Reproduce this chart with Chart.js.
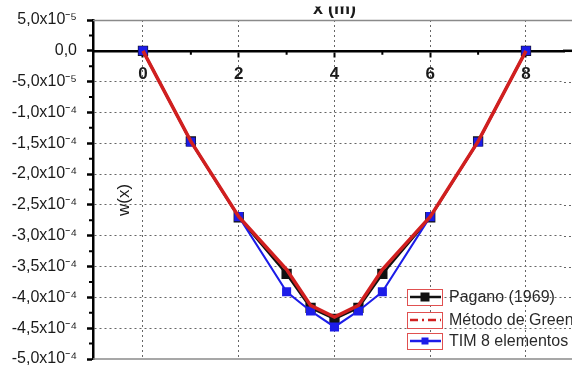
<!DOCTYPE html>
<html><head><meta charset="utf-8">
<script src="https://cdn.jsdelivr.net/npm/chart.js@4/dist/chart.umd.min.js"></script>
<style>html,body{margin:0;padding:0;background:#fff;}canvas{display:block;}</style>
</head><body>
<canvas id="c" width="572" height="372"></canvas>
<script>
const xValues = [0, 1, 2, 3, 3.5, 4, 4.5, 5, 6, 7, 8];
const pagano = [0, -1.47e-4, -2.70e-4, -3.62e-4, -4.17e-4, -4.35e-4, -4.17e-4, -3.62e-4, -2.70e-4, -1.47e-4, 0];
const green  = [0, -1.47e-4, -2.69e-4, -3.55e-4, -4.13e-4, -4.32e-4, -4.13e-4, -3.55e-4, -2.69e-4, -1.47e-4, 0];
const tim    = [0, -1.48e-4, -2.69e-4, -3.91e-4, -4.22e-4, -4.48e-4, -4.22e-4, -3.91e-4, -2.69e-4, -1.48e-4, 0];
const seriesNames = ['Pagano (1969)', 'Método de Green', 'TIM 8 elementos'];
const xTicks = [0, 2, 4, 6, 8];
const xMinorTicks = [1, 3, 5, 7];
const yTicks = [5e-5, 0, -5e-5, -1e-4, -1.5e-4, -2e-4, -2.5e-4, -3e-4, -3.5e-4, -4e-4, -4.5e-4, -5e-4];
const yMinorTicks = [2.5e-5, -2.5e-5, -7.5e-5, -1.25e-4, -1.75e-4, -2.25e-4, -2.75e-4, -3.25e-4, -3.75e-4, -4.25e-4, -4.75e-4];
const xTitle = 'x (m)';
const yTitle = 'w(x)';

const SUP = {'-':'\u207B','0':'\u2070','1':'\u00B9','2':'\u00B2','3':'\u00B3','4':'\u2074','5':'\u2075','6':'\u2076','7':'\u2077','8':'\u2078','9':'\u2079'};
function fmtY(v) {
  if (Math.abs(v) < 1e-12) return '0,0';
  const e = Math.floor(Math.log10(Math.abs(v)) + 1e-9);
  const m = v / Math.pow(10, e);
  const sup = String(e).split('').map(c => SUP[c]).join('');
  return m.toFixed(1).replace('.', ',') + 'x10' + sup;
}

const RED = '#d11f1f', BLUE = '#1c1ce8', BLACK = '#111111';
const pts = arr => xValues.map((x, i) => ({x: x, y: arr[i]}));

const extras = {
  id: 'extras',
  beforeDatasetsDraw(chart) {
    const ctx = chart.ctx, a = chart.chartArea;
    const xs = chart.scales.x, ys = chart.scales.y;
    const W = chart.width;
    ctx.save();
    ctx.strokeStyle = '#666'; ctx.lineWidth = 1; ctx.setLineDash([2, 3]);
    ctx.beginPath();
    yTicks.forEach(v => {
      if (Math.abs(v) < 1e-12 || v >= 4.9e-5 || v <= -4.99e-4) return;
      const py = Math.round(ys.getPixelForValue(v)) + 0.5;
      ctx.moveTo(a.right, py); ctx.lineTo(W, py);
    });
    ctx.stroke();
    ctx.setLineDash([]);
    ctx.strokeStyle = '#8a8a8a'; ctx.lineWidth = 1.5;
    ctx.beginPath();
    ctx.moveTo(a.left, a.top + 0.5); ctx.lineTo(W, a.top + 0.5);
    ctx.moveTo(a.left, a.bottom); ctx.lineTo(W, a.bottom);
    ctx.stroke();
    ctx.strokeStyle = '#000'; ctx.lineWidth = 2;
    const y0 = ys.getPixelForValue(0);
    ctx.beginPath();
    xMinorTicks.forEach(v => { const px = xs.getPixelForValue(v); ctx.moveTo(px, y0); ctx.lineTo(px, y0 + 4); });
    yMinorTicks.forEach(v => { const py = ys.getPixelForValue(v); ctx.moveTo(a.left, py); ctx.lineTo(a.left - 4, py); });
    ctx.stroke();
    ctx.lineWidth = 2.5;
    ctx.beginPath(); ctx.moveTo(a.right - 1, y0); ctx.lineTo(W, y0); ctx.stroke();
    ctx.restore();
  },
  afterDraw(chart) {
    const ctx = chart.ctx;
    ctx.save();
    // x title, top partly cut as in the source image
    ctx.save();
    ctx.beginPath(); ctx.rect(0, 6.5, chart.width, 12); ctx.clip();
    ctx.fillStyle = '#1a1a1a';
    ctx.font = 'bold 18px "Liberation Sans", Arial, sans-serif';
    ctx.textAlign = 'center'; ctx.textBaseline = 'alphabetic';
    ctx.fillText(xTitle, chart.scales.x.getPixelForValue(4), 14);
    ctx.restore();
    ctx.save();
    ctx.fillStyle = '#1a1a1a';
    ctx.translate(124, 200); ctx.rotate(-Math.PI / 2);
    ctx.font = '17px "Liberation Sans", Arial, sans-serif';
    ctx.textAlign = 'center'; ctx.textBaseline = 'middle';
    ctx.fillText(yTitle, 0, 0);
    ctx.restore();
    const rows = [297, 320, 341];
    const ds = chart.data.datasets;
    ctx.font = '16px "Liberation Sans", Arial, sans-serif';
    ctx.textAlign = 'left'; ctx.textBaseline = 'middle';
    rows.forEach((cy, i) => {
      ctx.fillStyle = '#fff';
      ctx.fillRect(407, cy - 8, 36, 16);
      ctx.strokeStyle = '#e05050'; ctx.lineWidth = 1;
      ctx.strokeRect(407.5, cy - 7.5, 35, 16);
      const d = ds[i];
      ctx.strokeStyle = d.borderColor; ctx.lineWidth = 2.5;
      ctx.setLineDash(i === 1 ? [8, 4, 2, 4] : []);
      ctx.beginPath(); ctx.moveTo(410, cy); ctx.lineTo(441, cy); ctx.stroke();
      ctx.setLineDash([]);
      if (d.pointRadius > 0) {
        ctx.fillStyle = d.borderColor;
        const s = i === 0 ? 9 : 7;
        ctx.fillRect(425 - s / 2, cy - s / 2, s, s);
      }
      ctx.fillStyle = '#2a2a2a';
      ctx.fillText(d.label, 449, cy + 1);
    });
    ctx.restore();
  }
};

new Chart(document.getElementById('c'), {
  type: 'line',
  data: {
    datasets: [
      {label: seriesNames[0], data: pts(pagano), borderColor: BLACK, backgroundColor: BLACK, borderWidth: 2.5, pointStyle: 'rect', pointRadius: 5.5, order: 3},
      {label: seriesNames[1], data: pts(green), borderColor: RED, backgroundColor: RED, borderWidth: 3.5, pointRadius: 0, order: 1},
      {label: seriesNames[2], data: pts(tim), borderColor: BLUE, backgroundColor: BLUE, borderWidth: 2, pointStyle: 'rect', pointRadius: 5, order: 2}
    ]
  },
  options: {
    responsive: false,
    animation: false,
    layout: {padding: {top: 20, bottom: 13, left: 0, right: 0}},
    plugins: {legend: {display: false}, tooltip: {enabled: false}},
    scales: {
      x: {
        type: 'linear', position: {y: 0}, min: -1.044, max: 8.794,
        afterBuildTicks: s => { s.ticks = xTicks.map(v => ({value: v})); },
        afterFit: s => { s.paddingLeft = 0; s.paddingRight = 0; s.paddingTop = 0; s.paddingBottom = 0; },
        grid: {color: '#666', lineWidth: 1, drawTicks: true, tickLength: 5, tickColor: '#000', tickWidth: 2},
        border: {color: '#000', width: 2.5, dash: [2, 3]},
        ticks: {font: {family: '"Liberation Sans", Arial, sans-serif', size: 17, weight: 'bold'}, color: '#1a1a1a', padding: 8, maxRotation: 0, callback: v => String(v)}
      },
      y: {
        type: 'linear', position: 'left', min: -5e-4, max: 5e-5,
        afterBuildTicks: s => { s.ticks = yTicks.map(v => ({value: v})); },
        afterFit: s => { s.width = 93; s.paddingTop = 0; s.paddingBottom = 0; },
        grid: {
          color: c => (c.tick && (Math.abs(c.tick.value) < 1e-12 || c.tick.value >= 4.9e-5 || c.tick.value <= -4.99e-4)) ? 'rgba(0,0,0,0)' : '#666',
          lineWidth: 1, drawTicks: true, tickLength: 6, tickColor: '#000', tickWidth: 2.5
        },
        border: {color: '#000', width: 2.5, dash: [2, 3]},
        ticks: {font: {family: '"Liberation Sans", Arial, sans-serif', size: 16}, color: '#1a1a1a', padding: 10, callback: v => fmtY(v)}
      }
    }
  },
  plugins: [extras]
});
</script>
</body></html>
